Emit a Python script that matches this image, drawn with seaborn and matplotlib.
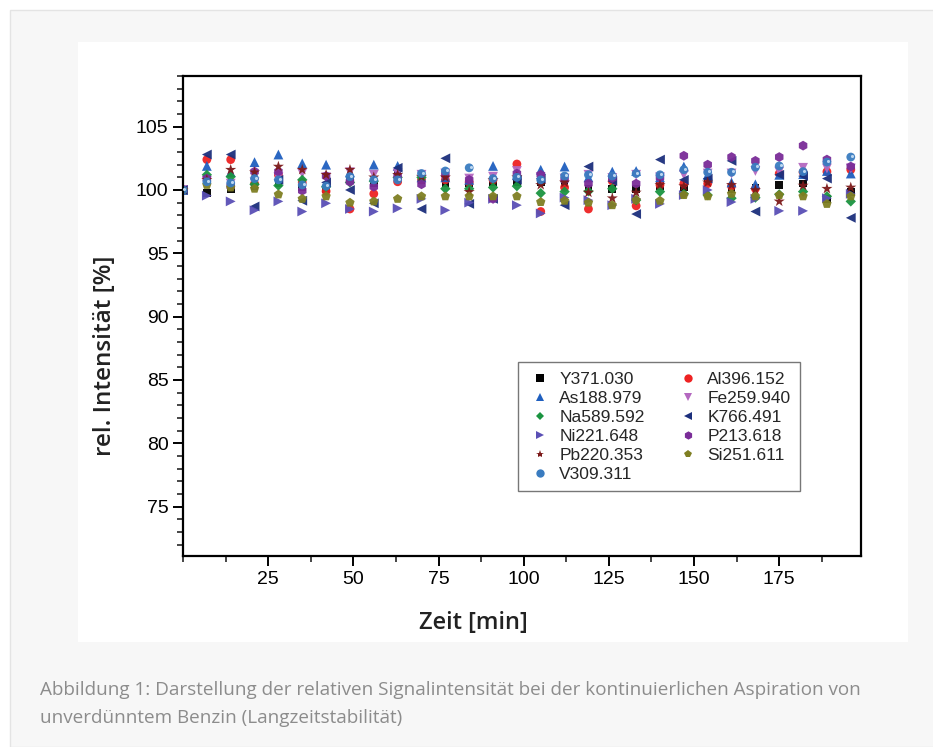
import matplotlib
matplotlib.use('Agg')
import numpy as np
import pandas as pd
import matplotlib.pyplot as plt
import seaborn as sns
from matplotlib.patches import Rectangle
from matplotlib.lines import Line2D
from matplotlib.ticker import MultipleLocator

# time points [min]
zeit = [0, 7, 14, 21, 28, 35, 42, 49, 56, 63, 70, 77, 84, 91, 98, 105, 112,
        119, 126, 133, 140, 147, 154, 161, 168, 175, 182, 189, 196]

# relative intensity [%] per line
y371 = [100, 99.75, 100.1, 100.3, 100.5, 100.2, 100.1, 100.8, 100.5, 101.45, 100.8, 100.5, 100.5, 100.6, 100.6,
        100.6, 100.5, 100.1, 100.1, 100.1, 100.3, 100.2, 100.6, 100.1, 100.2, 100.4, 100.5, 99.3, 99.85]
al396 = [100, 102.4, 102.4, 100.5, 101.2, 100.6, 99.9, 98.5, 99.7, 100.65, 100.8, 100.8, 100.6, 100.8, 102.05,
         98.3, 100.2, 98.5, 100.7, 98.75, 100.4, 100.5, 100.5, 100.3, 100.1, 101.3, 101.4, 101.45, 101.6]
as188 = [100, 101.9, 101.4, 102.2, 102.8, 102.1, 102.0, 101.4, 102.0, 101.9, 101.0, 101.0, 100.8, 101.9, 101.2,
         101.6, 101.85, 101.0, 101.45, 101.5, 101.0, 101.85, 101.2, 100.6, 100.45, 101.2, 101.25, 101.5, 101.3]
fe259 = [100, 100.7, 100.5, 100.6, 101.0, 101.3, 101.0, 101.4, 101.2, 101.3, 101.2, 101.3, 100.9, 101.05, 101.5,
         101.0, 100.9, 101.2, 100.95, 101.2, 101.0, 101.2, 101.3, 101.3, 101.5, 101.45, 101.75, 101.7, 101.7]
na589 = [100, 101.2, 101.05, 100.45, 100.35, 100.8, 100.25, 100.6, 100.7, 101.0, 101.0, 100.1, 100.1, 100.2, 100.3,
         99.75, 99.87, 99.9, 100.1, 99.2, 99.87, 99.7, 99.6, 99.35, 99.4, 99.65, 99.87, 99.5, 99.1]
k766 = [100, 102.8, 102.8, 98.7, 100.8, 99.15, 100.6, 100.0, 98.95, 101.75, 98.5, 102.5, 98.9, 99.3, 100.8,
        100.9, 98.8, 101.85, 100.7, 98.1, 102.4, 100.8, 100.9, 102.3, 98.3, 101.2, 101.1, 100.9, 97.8]
ni221 = [100, 99.55, 99.1, 98.4, 99.1, 98.3, 98.95, 98.5, 98.3, 98.55, 99.3, 98.4, 99.0, 99.3, 98.8,
         98.15, 99.4, 99.2, 98.8, 99.3, 98.9, 99.6, 100.0, 99.05, 99.3, 98.35, 98.35, 99.35, 99.7]
p213 = [100, 100.9, 100.3, 101.45, 101.45, 99.95, 101.1, 100.65, 100.26, 101.1, 100.45, 101.2, 100.8, 99.3, 101.3,
        101.2, 100.8, 100.5, 100.95, 100.5, 101.0, 102.7, 102.0, 102.6, 102.3, 102.6, 103.5, 102.4, 101.85]
pb220 = [100, 100.8, 101.6, 101.4, 101.85, 101.6, 101.2, 101.6, 101.0, 101.2, 101.05, 101.0, 99.85, 100.8, 101.0,
         100.4, 100.6, 99.8, 99.35, 99.8, 100.4, 100.3, 100.6, 100.4, 100.0, 99.1, 100.35, 100.1, 100.2]
si251 = [100, 100.4, 100.2, 100.1, 99.65, 99.3, 99.5, 99.0, 99.1, 99.3, 99.5, 99.5, 99.5, 99.5, 99.5,
         99.05, 99.15, 99.0, 98.8, 99.2, 99.15, 99.6, 99.5, 99.7, 99.5, 99.6, 99.5, 98.9, 99.5]
v309 = [100, 100.65, 100.55, 100.9, 100.8, 100.4, 100.3, 101.05, 100.8, 100.8, 101.3, 101.5, 101.75, 100.9, 101.0,
        100.8, 101.1, 101.2, 101.1, 101.3, 101.2, 101.6, 101.4, 101.4, 101.8, 101.9, 101.45, 102.2, 102.6]

linien = ['Y371.030', 'Al396.152', 'As188.979', 'Fe259.940', 'Na589.592', 'K766.491',
          'Ni221.648', 'P213.618', 'Pb220.353', 'Si251.611', 'V309.311']
werte = [y371, al396, as188, fe259, na589, k766, ni221, p213, pb220, si251, v309]

farben = {'Y371.030': '#000000', 'Al396.152': '#ee2222', 'As188.979': '#1f5fbf',
          'Fe259.940': '#b468c0', 'Na589.592': '#1a9440', 'K766.491': '#1c2f7c',
          'Ni221.648': '#5a4fb5', 'P213.618': '#7a2c98', 'Pb220.353': '#7c1a1a',
          'Si251.611': '#7f7f22', 'V309.311': '#3a7cc0'}
marker = {'Y371.030': 's', 'Al396.152': 'o', 'As188.979': '^', 'Fe259.940': 'v',
          'Na589.592': 'D', 'K766.491': '<', 'Ni221.648': '>', 'P213.618': 'h',
          'Pb220.353': '*', 'Si251.611': 'p', 'V309.311': 'o'}
groesse = {'Y371.030': 30, 'Al396.152': 40, 'As188.979': 50, 'Fe259.940': 50,
           'Na589.592': 28, 'K766.491': 50, 'Ni221.648': 50, 'P213.618': 50,
           'Pb220.353': 70, 'Si251.611': 50, 'V309.311': 40}

df = pd.DataFrame({
    'Zeit': np.tile(zeit, len(linien)),
    'Intensitaet': np.concatenate(werte),
    'Linie': np.repeat(linien, len(zeit)),
})

sns.set_style('white')

fig = plt.figure(figsize=(9.33, 7.47), dpi=100)
fig.patch.set_facecolor('white')
fig.patches.append(Rectangle((10 / 933, 0), 1, 1 - 10 / 747, transform=fig.transFigure,
                             facecolor='#f7f7f7', edgecolor='#e4e4e4', lw=1, zorder=-3))
fig.patches.append(Rectangle((78 / 933, 1 - 642 / 747), 830 / 933, 600 / 747,
                             transform=fig.transFigure, facecolor='white', edgecolor='none', zorder=-2))

ax = fig.add_axes([183 / 933, 1 - 556 / 747, 678 / 933, 480 / 747])
ax.set_facecolor('white')

for lin in linien:
    sub = df[df['Linie'] == lin]
    sns.scatterplot(data=sub, x='Zeit', y='Intensitaet', ax=ax, color=farben[lin],
                    marker=marker[lin], s=groesse[lin], edgecolor='none', linewidth=0,
                    alpha=0.95, legend=False)
# small highlight on V markers
vsub = df[df['Linie'] == 'V309.311']
ax.scatter(vsub['Zeit'] + 0.4, vsub['Intensitaet'] + 0.08, s=5, color='#bcd6f0', lw=0, zorder=5)

ax.set_xlim(0, 199)
ax.set_ylim(71.1, 109)
ax.xaxis.set_major_locator(MultipleLocator(25))
ax.xaxis.set_minor_locator(MultipleLocator(12.5))
ax.yaxis.set_major_locator(MultipleLocator(5))
ax.yaxis.set_minor_locator(MultipleLocator(1))
ax.set_xticks([25, 50, 75, 100, 125, 150, 175])
ax.set_yticks([75, 80, 85, 90, 95, 100, 105])

for sp in ax.spines.values():
    sp.set_visible(True)
    sp.set_color('black')
    sp.set_linewidth(1.6)

ax.tick_params(axis='both', which='major', direction='out', length=7, width=1.4,
               labelsize=14, colors='black', bottom=True, left=True, top=False, right=False)
ax.tick_params(axis='both', which='minor', direction='out', length=4, width=1.2,
               bottom=True, left=True, top=False, right=False)
for lab in ax.get_xticklabels() + ax.get_yticklabels():
    lab.set_fontfamily('Liberation Sans')

ax.set_xlabel('Zeit [min]', fontsize=17, fontfamily='Open Sans', fontweight='semibold',
              color='#222222', labelpad=12)
ax.set_ylabel('rel. Intensität [%]', fontsize=17.5, fontfamily='Open Sans', fontweight='semibold',
              color='#222222', labelpad=12)
ax.xaxis.set_label_coords(0.428, -0.115)
ax.yaxis.set_label_coords(-0.097, 0.417)

# legend: two columns, filled column-wise
reihenfolge = ['Y371.030', 'As188.979', 'Na589.592', 'Ni221.648', 'Pb220.353', 'V309.311',
               'Al396.152', 'Fe259.940', 'K766.491', 'P213.618', 'Si251.611']
handles = [Line2D([], [], ls='none', marker=marker[l], color=farben[l], markeredgewidth=0,
                  markersize=6 if marker[l] != 'D' else 4.5) for l in reihenfolge]
leg = ax.legend(handles, reihenfolge, ncol=2, loc='lower left', bbox_to_anchor=(0.482, 0.117),
                frameon=True, fancybox=False, edgecolor='#555555',
                handletextpad=0.4, handlelength=1.4, columnspacing=1.8, labelspacing=0.22,
                borderpad=0.55, prop={'family': 'Liberation Sans', 'size': 12.5})
leg.get_frame().set_linewidth(1.0)

fig.text(40 / 933, 1 - 690 / 747, 'Abbildung 1: Darstellung der relativen Signalintensität bei der '
         'kontinuierlichen Aspiration von', fontsize=13.6, fontfamily='Open Sans',
         color='#8c8c8c', va='center')
fig.text(40 / 933, 1 - 718 / 747, 'unverdünntem Benzin (Langzeitstabilität)', fontsize=13.6,
         fontfamily='Open Sans', color='#8c8c8c', va='center')

fig.savefig('out.png', dpi=100)
